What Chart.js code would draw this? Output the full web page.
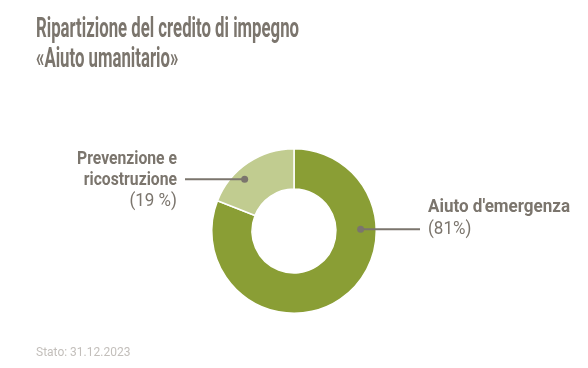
<!DOCTYPE html>
<html>
<head>
<meta charset="utf-8">
<script src="https://cdn.jsdelivr.net/npm/chart.js@4"></script>
<style>
  html, body { margin: 0; padding: 0; background: #fff; }
  #wrap { width: 588px; height: 368px; }
</style>
</head>
<body>
<div id="wrap"><canvas id="creditChart" width="588" height="368"></canvas></div>
<script>
// Data
const categories = ['Aiuto d\'emergenza', 'Prevenzione e ricostruzione'];
const shares = [81, 19];
const sliceColors = ['#8a9e35', '#c1cc90'];
const titleLines = ['Ripartizione del credito di impegno', '\u00abAiuto umanitario\u00bb'];
const footnote = 'Stato: 31.12.2023';

const textGray = '#7b756d';
const fontFamily = 'Roboto, "Liberation Sans", sans-serif';

// draws text squeezed horizontally to look like a condensed face
function drawCondensed(ctx, text, x, y, align, sx) {
  ctx.save();
  ctx.translate(x, y);
  ctx.scale(sx, 1);
  ctx.textAlign = align;
  ctx.fillText(text, 0, 0);
  ctx.restore();
}

const labelsPlugin = {
  id: 'labelsPlugin',
  afterDraw(chart) {
    const ctx = chart.ctx;
    ctx.save();
    ctx.textBaseline = 'alphabetic';

    // title
    ctx.fillStyle = textGray;
    ctx.font = 'bold 27px ' + fontFamily;
    const sx = 263 / ctx.measureText(titleLines[0]).width;
    drawCondensed(ctx, titleLines[0], 36, 37, 'left', sx);
    drawCondensed(ctx, titleLines[1], 36, 67, 'left', sx);

    // leader lines + labels
    const meta = chart.getDatasetMeta(0);
    const arc = meta.data[0];
    const cx = arc.x, cy = arc.y, r = arc.outerRadius;

    const leftDot = { x: cx - 0.60 * r, y: cy - 0.63 * r };
    const rightDot = { x: cx + 0.81 * r, y: cy - 0.02 * r };

    ctx.strokeStyle = textGray;
    ctx.lineWidth = 2;
    ctx.beginPath();
    ctx.moveTo(185, leftDot.y);
    ctx.lineTo(leftDot.x, leftDot.y);
    ctx.moveTo(rightDot.x, rightDot.y);
    ctx.lineTo(420, rightDot.y);
    ctx.stroke();
    ctx.fillStyle = textGray;
    [leftDot, rightDot].forEach(p => {
      ctx.beginPath();
      ctx.arc(p.x, p.y, 3.5, 0, Math.PI * 2);
      ctx.fill();
    });

    ctx.font = 'bold 18px ' + fontFamily;
    const lx = 100 / ctx.measureText('Prevenzione e').width;
    const rx = 142 / ctx.measureText('Aiuto d\'emergenza').width;
    drawCondensed(ctx, 'Prevenzione e', 177, 164, 'right', lx);
    drawCondensed(ctx, 'ricostruzione', 177, 185, 'right', lx);
    drawCondensed(ctx, 'Aiuto d\'emergenza', 428, 212, 'left', rx);
    ctx.font = '18px ' + fontFamily;
    drawCondensed(ctx, '(' + shares[1] + ' %)', 177, 206, 'right', rx);
    drawCondensed(ctx, '(' + shares[0] + '%)', 428, 234, 'left', rx);

    // footnote
    ctx.fillStyle = '#c3bfbb';
    ctx.font = '12px ' + fontFamily;
    ctx.textAlign = 'left';
    ctx.fillText(footnote, 36, 356);
    ctx.restore();
  }
};

const ctx = document.getElementById('creditChart').getContext('2d');
new Chart(ctx, {
  type: 'doughnut',
  data: {
    labels: categories,
    datasets: [{
      data: shares,
      backgroundColor: sliceColors,
      borderColor: '#ffffff',
      borderWidth: 1.5
    }]
  },
  options: {
    responsive: false,
    animation: false,
    cutout: '51%',
    layout: { padding: { top: 148, bottom: 54, left: 0, right: 0 } },
    plugins: {
      legend: { display: false },
      tooltip: { enabled: false }
    }
  },
  plugins: [labelsPlugin]
});
</script>
</body>
</html>
